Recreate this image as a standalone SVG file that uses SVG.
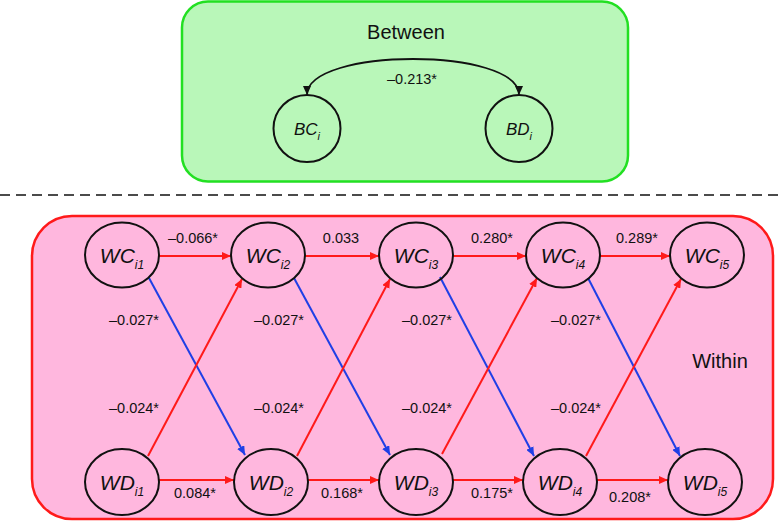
<svg xmlns="http://www.w3.org/2000/svg" width="780" height="521" viewBox="0 0 780 521">
<style>
.lbl{font-family:"Liberation Sans",Arial,sans-serif;font-size:14.5px;fill:#111;text-anchor:middle}
.title{font-family:"Liberation Sans",Arial,sans-serif;font-size:20px;fill:#111;text-anchor:middle}
.node{fill:none;stroke:#111;stroke-width:2}
.nt{font-family:"Liberation Sans",Arial,sans-serif;font-style:italic;font-size:21px;fill:#111;text-anchor:middle}
.bt{font-family:"Liberation Sans",Arial,sans-serif;font-style:italic;font-size:17px;fill:#111;text-anchor:middle}
.sub{font-size:12px}
.bsub{font-size:11px}
.red{stroke:#ff1a1a;stroke-width:2;fill:none;marker-end:url(#ar)}
.blue{stroke:#1f3fe6;stroke-width:2;fill:none;marker-end:url(#ab)}
</style>
<defs>
<marker id="ar" markerUnits="userSpaceOnUse" markerWidth="10" markerHeight="8" refX="9" refY="4" orient="auto"><path d="M0,0 L9,4 L0,8 z" fill="#ff1a1a"/></marker>
<marker id="ab" markerUnits="userSpaceOnUse" markerWidth="10" markerHeight="8" refX="9" refY="4" orient="auto"><path d="M0,0 L9,4 L0,8 z" fill="#1f3fe6"/></marker>
<marker id="ak" markerUnits="userSpaceOnUse" markerWidth="10" markerHeight="8" refX="9" refY="4" orient="auto"><path d="M0,0 L9,4 L0,8 z" fill="#111"/></marker>
<marker id="aks" markerUnits="userSpaceOnUse" markerWidth="10" markerHeight="8" refX="9" refY="4" orient="auto-start-reverse"><path d="M0,0 L9,4 L0,8 z" fill="#111"/></marker>
</defs>
<g id="between-panel">
<rect x="182" y="1.5" width="446" height="180" rx="26" fill="#b9f7b9" stroke="#22e022" stroke-width="2.5"/>
<text class="title" x="406" y="39">Between</text>
</g>
<line id="divider" x1="0" y1="195" x2="780" y2="195" stroke="#111" stroke-width="1.5" stroke-dasharray="10,6"/>
<g id="within-panel">
<rect x="32" y="216" width="741" height="303" rx="40" fill="#ffb7de" stroke="#ff1a1a" stroke-width="2.5"/>
<text class="title" x="720" y="368">Within</text>
</g>
<g id="connectors">
<path d="M307,95 C307,47 519,47 519,95" fill="none" stroke="#111" stroke-width="1.8" marker-start="url(#aks)" marker-end="url(#ak)"/>
<line class="red" x1="159" y1="256" x2="231" y2="256"/>
<line class="red" x1="305" y1="256" x2="379" y2="256"/>
<line class="red" x1="453" y1="256" x2="526" y2="256"/>
<line class="red" x1="600" y1="256" x2="670" y2="256"/>
<line class="red" x1="159" y1="480" x2="234" y2="480"/>
<line class="red" x1="308" y1="480" x2="379" y2="480"/>
<line class="red" x1="453" y1="480" x2="523" y2="480"/>
<line class="red" x1="597" y1="480" x2="668" y2="480"/>
<line class="blue" x1="149" y1="278" x2="245" y2="455"/>
<line class="blue" x1="294" y1="278" x2="390" y2="455"/>
<line class="blue" x1="440" y1="277" x2="534" y2="456"/>
<line class="blue" x1="588" y1="278" x2="680" y2="456"/>
<line class="red" x1="148" y1="456" x2="242" y2="279"/>
<line class="red" x1="297" y1="456" x2="390" y2="279"/>
<line class="red" x1="442" y1="454" x2="537" y2="278"/>
<line class="red" x1="586" y1="456" x2="681" y2="279"/>
</g>
<g id="edge-labels">
<text class="lbl" x="412" y="84">–0.213*</text>
<text class="lbl" x="193" y="243">–0.066*</text>
<text class="lbl" x="341" y="243">0.033</text>
<text class="lbl" x="492" y="243">0.280*</text>
<text class="lbl" x="637" y="243">0.289*</text>
<text class="lbl" x="195" y="498">0.084*</text>
<text class="lbl" x="342" y="498">0.168*</text>
<text class="lbl" x="492" y="498">0.175*</text>
<text class="lbl" x="630" y="502">0.208*</text>
<text class="lbl" x="134" y="325">–0.027*</text>
<text class="lbl" x="279" y="325">–0.027*</text>
<text class="lbl" x="427" y="325">–0.027*</text>
<text class="lbl" x="576" y="325">–0.027*</text>
<text class="lbl" x="134" y="413">–0.024*</text>
<text class="lbl" x="279" y="413">–0.024*</text>
<text class="lbl" x="427" y="413">–0.024*</text>
<text class="lbl" x="576" y="413">–0.024*</text>
</g>
<g id="BC"><circle class="node" cx="307" cy="128.5" r="33.5"/><text class="bt" x="307" y="134.5">BC<tspan class="bsub" dy="5">i</tspan></text></g>
<g id="BD"><circle class="node" cx="519" cy="128.5" r="33.5"/><text class="bt" x="519" y="134.5">BD<tspan class="bsub" dy="5">i</tspan></text></g>
<g id="WC1"><ellipse class="node" cx="122" cy="255" rx="37" ry="32.5"/><text class="nt" x="122" y="263">WC<tspan class="sub" dy="6">i1</tspan></text></g>
<g id="WC2"><ellipse class="node" cx="268" cy="255" rx="37" ry="32.5"/><text class="nt" x="268" y="263">WC<tspan class="sub" dy="6">i2</tspan></text></g>
<g id="WC3"><ellipse class="node" cx="416" cy="255" rx="37" ry="32.5"/><text class="nt" x="416" y="263">WC<tspan class="sub" dy="6">i3</tspan></text></g>
<g id="WC4"><ellipse class="node" cx="563" cy="255" rx="37" ry="32.5"/><text class="nt" x="563" y="263">WC<tspan class="sub" dy="6">i4</tspan></text></g>
<g id="WC5"><ellipse class="node" cx="707" cy="255" rx="37" ry="32.5"/><text class="nt" x="707" y="263">WC<tspan class="sub" dy="6">i5</tspan></text></g>
<g id="WD1"><ellipse class="node" cx="122" cy="482" rx="37" ry="33"/><text class="nt" x="122" y="490">WD<tspan class="sub" dy="6">i1</tspan></text></g>
<g id="WD2"><ellipse class="node" cx="271" cy="482" rx="37" ry="33"/><text class="nt" x="271" y="490">WD<tspan class="sub" dy="6">i2</tspan></text></g>
<g id="WD3"><ellipse class="node" cx="416" cy="482" rx="37" ry="33"/><text class="nt" x="416" y="490">WD<tspan class="sub" dy="6">i3</tspan></text></g>
<g id="WD4"><ellipse class="node" cx="560" cy="482" rx="37" ry="33"/><text class="nt" x="560" y="490">WD<tspan class="sub" dy="6">i4</tspan></text></g>
<g id="WD5"><ellipse class="node" cx="705" cy="482" rx="37" ry="33"/><text class="nt" x="705" y="490">WD<tspan class="sub" dy="6">i5</tspan></text></g>
</svg>
